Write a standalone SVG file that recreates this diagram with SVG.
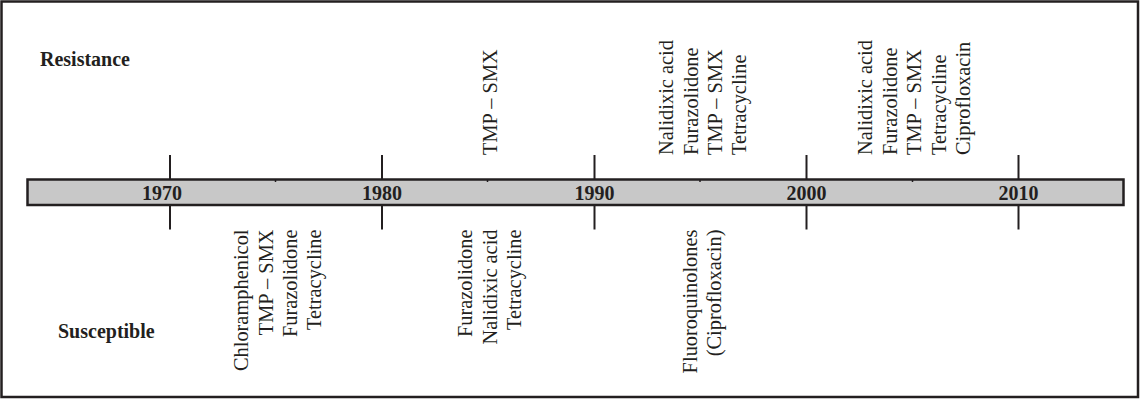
<svg xmlns="http://www.w3.org/2000/svg" width="1141" height="399" viewBox="0 0 1141 399">
<style>
.frame{fill:#fff;stroke:#231f20;stroke-width:2.5}
.bar{fill:#c8c8c8;stroke:#231f20;stroke-width:2.5}
.tick{stroke:#231f20;stroke-width:2}
.mtick{stroke:#231f20;stroke-width:1.5}
.yr{font-family:"Liberation Serif","Times New Roman",serif;font-weight:bold;font-size:20px;fill:#231f20;text-anchor:middle}
.hd{font-family:"Liberation Serif","Times New Roman",serif;font-weight:bold;font-size:20px;fill:#231f20}
.dr{font-family:"Liberation Serif","Times New Roman",serif;font-size:20.4px;fill:#231f20}
.up{text-anchor:start}
.dn{text-anchor:end}
</style>
<rect class="frame" x="1.5" y="1.5" width="1136.5" height="395.5"/>
<g id="timeline">
<rect class="bar" x="27.5" y="179.5" width="1096" height="25.5"/>
<g id="ticks">
<line class="tick" x1="170" y1="155" x2="170" y2="179.5"/><line class="tick" x1="170" y1="205" x2="170" y2="229.5"/>
<line class="tick" x1="382" y1="155" x2="382" y2="179.5"/><line class="tick" x1="382" y1="205" x2="382" y2="229.5"/>
<line class="tick" x1="594.5" y1="155" x2="594.5" y2="179.5"/><line class="tick" x1="594.5" y1="205" x2="594.5" y2="229.5"/>
<line class="tick" x1="806.5" y1="155" x2="806.5" y2="179.5"/><line class="tick" x1="806.5" y1="205" x2="806.5" y2="229.5"/>
<line class="tick" x1="1018.5" y1="155" x2="1018.5" y2="179.5"/><line class="tick" x1="1018.5" y1="205" x2="1018.5" y2="229.5"/>
<line class="mtick" x1="275.5" y1="179.5" x2="275.5" y2="182"/>
<line class="mtick" x1="487.5" y1="179.5" x2="487.5" y2="182"/>
<line class="mtick" x1="700" y1="179.5" x2="700" y2="182"/>
<line class="mtick" x1="912.5" y1="179.5" x2="912.5" y2="182"/>
</g>
<text class="yr" x="162" y="200">1970</text>
<text class="yr" x="382" y="200">1980</text>
<text class="yr" x="594.5" y="200">1990</text>
<text class="yr" x="806.5" y="200">2000</text>
<text class="yr" x="1018.5" y="200">2010</text>
</g>
<g id="labels">
<text class="hd" x="40" y="66">Resistance</text>
<text class="hd" x="58" y="338">Susceptible</text>
</g>
<g id="resistance-1985" class="dr up">
<text transform="translate(496.5,155) rotate(-90)">TMP – SMX</text>
</g>
<g id="resistance-1995" class="dr up">
<text transform="translate(673,155) rotate(-90)">Nalidixic acid</text>
<text transform="translate(697.5,155) rotate(-90)">Furazolidone</text>
<text transform="translate(721.5,155) rotate(-90)">TMP – SMX</text>
<text transform="translate(746,155) rotate(-90)">Tetracycline</text>
</g>
<g id="resistance-2005" class="dr up">
<text transform="translate(872,155) rotate(-90)">Nalidixic acid</text>
<text transform="translate(896.5,155) rotate(-90)">Furazolidone</text>
<text transform="translate(921,155) rotate(-90)">TMP – SMX</text>
<text transform="translate(945.5,155) rotate(-90)">Tetracycline</text>
<text transform="translate(970,155) rotate(-90)">Ciprofloxacin</text>
</g>
<g id="susceptible-1975" class="dr dn">
<text transform="translate(248,229.5) rotate(-90)">Chloramphenicol</text>
<text transform="translate(272.5,229.5) rotate(-90)">TMP – SMX</text>
<text transform="translate(297,229.5) rotate(-90)">Furazolidone</text>
<text transform="translate(321,229.5) rotate(-90)">Tetracycline</text>
</g>
<g id="susceptible-1985" class="dr dn">
<text transform="translate(472,229.5) rotate(-90)">Furazolidone</text>
<text transform="translate(496.5,229.5) rotate(-90)">Nalidixic acid</text>
<text transform="translate(521,229.5) rotate(-90)">Tetracycline</text>
</g>
<g id="susceptible-1995" class="dr dn">
<text transform="translate(696.5,229.5) rotate(-90)">Fluoroquinolones</text>
<text transform="translate(721,229.5) rotate(-90)">(Ciprofloxacin)</text>
</g>
</svg>
